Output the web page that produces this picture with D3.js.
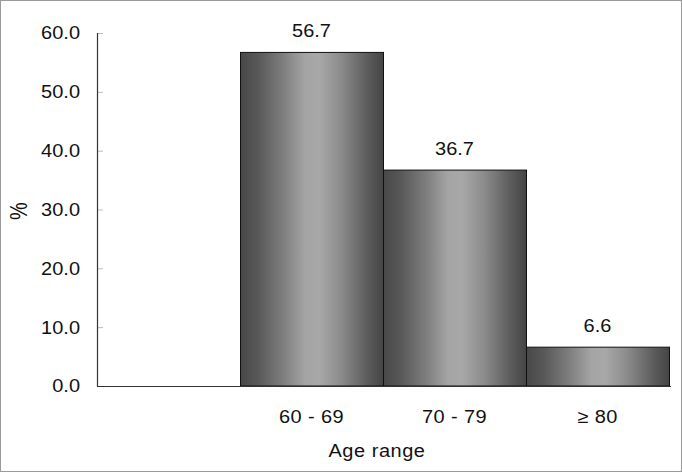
<!DOCTYPE html>
<html>
<head>
<meta charset="utf-8">
<script src="https://cdn.jsdelivr.net/npm/d3@7"></script>
<style>
  html, body { margin: 0; padding: 0; background: #fff; }
  svg { display: block; font-family: "Liberation Sans", Arial, Helvetica, sans-serif; }
</style>
</head>
<body>
<svg id="chart" width="682" height="472"></svg>
<script>
  // data
  var categories = ['', '60 - 69', '70 - 79', '\u2265 80'];
  var percents   = [null, 56.7, 36.7, 6.6];
  var yTicks     = [0, 10, 20, 30, 40, 50, 60];

  var svg = d3.select('#chart');
  var W = 682, H = 472;
  var margin = { left: 97, right: 13, top: 33, bottom: 86 };
  var FONT = 18.5, STRETCH = 1.08;

  // text in the original is a bit wider than Liberation Sans
  function place(sel, fx, fy) {
    return sel.attr('transform', function(d, i) {
      return 'translate(' + fx(d, i) + ',' + fy(d, i) + ') scale(' + STRETCH + ',1)';
    })
    .attr('font-size', FONT)
    .attr('fill', '#111');
  }

  // outer frame
  svg.append('rect')
    .attr('x', 0.5).attr('y', 0.5)
    .attr('width', W - 1).attr('height', H - 1)
    .attr('fill', '#fff').attr('stroke', '#9a9a9a');

  var x = d3.scaleBand()
    .domain(categories)
    .range([margin.left, W - margin.right])
    .padding(0);

  var y = d3.scaleLinear()
    .domain([0, 60])
    .range([H - margin.bottom, margin.top]);

  // metallic grey gradient for bars
  var grad = svg.append('defs').append('linearGradient')
    .attr('id', 'barGrad')
    .attr('x1', '0%').attr('x2', '100%').attr('y1', '0%').attr('y2', '0%');
  [[0, '#484848'], [0.12, '#585858'], [0.3, '#7e7e7e'], [0.45, '#a4a4a4'],
   [0.55, '#a8a8a8'], [0.7, '#8c8c8c'], [0.88, '#5e5e5e'], [1, '#444']]
    .forEach(function(s) {
      grad.append('stop').attr('offset', s[0]).attr('stop-color', s[1]);
    });

  // y ticks
  var yAxis = svg.append('g')
    .attr('transform', 'translate(' + margin.left + ',0)')
    .call(d3.axisRight(y).tickValues(yTicks).tickSize(6).tickFormat(''));
  yAxis.select('.domain').remove();
  yAxis.selectAll('.tick line').attr('stroke', '#bbb');

  place(svg.append('g').selectAll('text')
    .data(yTicks)
    .enter().append('text')
    .attr('dy', '0.35em')
    .attr('text-anchor', 'end')
    .text(function(d) { return d.toFixed(1); }),
    function() { return 80; }, function(d) { return y(d); });

  // bars
  var data = categories.map(function(c, i) { return { cat: c, v: percents[i] }; })
    .filter(function(d) { return d.v != null; });

  svg.append('g').selectAll('rect')
    .data(data)
    .enter().append('rect')
    .attr('x', function(d) { return x(d.cat) + 0.5; })
    .attr('y', function(d) { return y(d.v); })
    .attr('width', x.bandwidth())
    .attr('height', function(d) { return y(0) - y(d.v); })
    .attr('fill', 'url(#barGrad)')
    .attr('stroke', '#111')
    .attr('stroke-width', 1);

  place(svg.append('g').selectAll('text')
    .data(data)
    .enter().append('text')
    .attr('text-anchor', 'middle')
    .text(function(d) { return d.v.toFixed(1); }),
    function(d) { return x(d.cat) + x.bandwidth() / 2; },
    function(d) { return y(d.v) - 15; });

  // axis lines
  svg.append('line')
    .attr('x1', margin.left + 0.5).attr('x2', margin.left + 0.5)
    .attr('y1', y(60)).attr('y2', y(0) + 0.5)
    .attr('stroke', '#333').attr('stroke-width', 1.2);
  svg.append('line')
    .attr('x1', margin.left).attr('x2', W - margin.right + 2)
    .attr('y1', y(0) + 0.5).attr('y2', y(0) + 0.5)
    .attr('stroke', '#333').attr('stroke-width', 1.2);

  // category labels
  place(svg.append('g').selectAll('text')
    .data(categories.filter(function(c) { return c !== ''; }))
    .enter().append('text')
    .attr('text-anchor', 'middle')
    .attr('letter-spacing', 0.4)
    .text(function(c) { return c; }),
    function(c) { return x(c) + x.bandwidth() / 2; }, function() { return 423; });

  // axis titles
  place(svg.append('text')
    .attr('text-anchor', 'middle')
    .attr('letter-spacing', 0.5)
    .text('Age range'),
    function() { return 377; }, function() { return 457; });

  svg.append('text')
    .attr('transform', 'translate(27,211) rotate(-90) scale(1,1.15)')
    .attr('text-anchor', 'middle')
    .attr('font-size', 20)
    .attr('fill', '#111')
    .text('%');
</script>
</body>
</html>
